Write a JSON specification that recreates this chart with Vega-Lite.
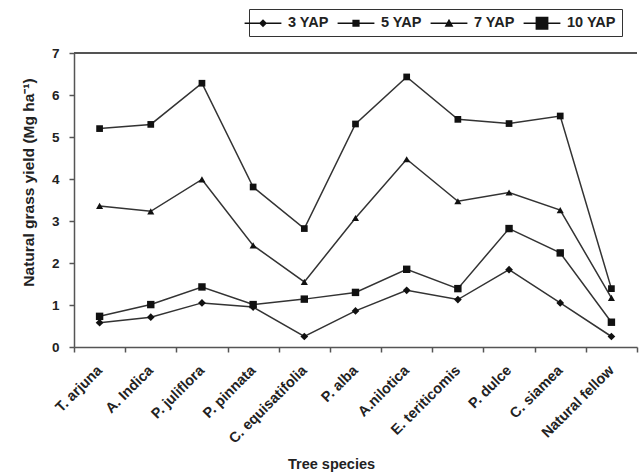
{
  "$schema": "https://vega.github.io/schema/vega-lite/v6.json",
  "autosize": "none",
  "width": 563,
  "height": 294,
  "padding": {"left": 74, "top": 53, "right": 3, "bottom": 126},
  "background": "white",
  "config": {
    "font": "Liberation Sans",
    "view": {"stroke": null},
    "axis": {"labelFont": "Liberation Sans", "labelFontWeight": "bold", "labelColor": "#222", "titleFont": "Liberation Sans", "titleFontWeight": "bold", "titleColor": "#222", "domainColor": "#555", "domainWidth": 1.5, "tickColor": "#555", "tickWidth": 1.5, "tickSize": 5, "grid": false}
  },
  "data": {"values": [
    {"species": "T. arjuna", "series": "3 YAP", "value": 0.58},
    {"species": "T. arjuna", "series": "5 YAP", "value": 0.73},
    {"species": "T. arjuna", "series": "7 YAP", "value": 3.36},
    {"species": "T. arjuna", "series": "10 YAP", "value": 5.20},
    {"species": "A. Indica", "series": "3 YAP", "value": 0.71},
    {"species": "A. Indica", "series": "5 YAP", "value": 1.01},
    {"species": "A. Indica", "series": "7 YAP", "value": 3.23},
    {"species": "A. Indica", "series": "10 YAP", "value": 5.30},
    {"species": "P. juliflora", "series": "3 YAP", "value": 1.05},
    {"species": "P. juliflora", "series": "5 YAP", "value": 1.43},
    {"species": "P. juliflora", "series": "7 YAP", "value": 3.99},
    {"species": "P. juliflora", "series": "10 YAP", "value": 6.28},
    {"species": "P. pinnata", "series": "3 YAP", "value": 0.95},
    {"species": "P. pinnata", "series": "5 YAP", "value": 1.01},
    {"species": "P. pinnata", "series": "7 YAP", "value": 2.42},
    {"species": "P. pinnata", "series": "10 YAP", "value": 3.81},
    {"species": "C. equisatifolia", "series": "3 YAP", "value": 0.25},
    {"species": "C. equisatifolia", "series": "5 YAP", "value": 1.14},
    {"species": "C. equisatifolia", "series": "7 YAP", "value": 1.55},
    {"species": "C. equisatifolia", "series": "10 YAP", "value": 2.82},
    {"species": "P. alba", "series": "3 YAP", "value": 0.86},
    {"species": "P. alba", "series": "5 YAP", "value": 1.30},
    {"species": "P. alba", "series": "7 YAP", "value": 3.07},
    {"species": "P. alba", "series": "10 YAP", "value": 5.31},
    {"species": "A.nilotica", "series": "3 YAP", "value": 1.35},
    {"species": "A.nilotica", "series": "5 YAP", "value": 1.85},
    {"species": "A.nilotica", "series": "7 YAP", "value": 4.47},
    {"species": "A.nilotica", "series": "10 YAP", "value": 6.43},
    {"species": "E. teriticomis", "series": "3 YAP", "value": 1.13},
    {"species": "E. teriticomis", "series": "5 YAP", "value": 1.39},
    {"species": "E. teriticomis", "series": "7 YAP", "value": 3.47},
    {"species": "E. teriticomis", "series": "10 YAP", "value": 5.42},
    {"species": "P. dulce", "series": "3 YAP", "value": 1.84},
    {"species": "P. dulce", "series": "5 YAP", "value": 2.82},
    {"species": "P. dulce", "series": "7 YAP", "value": 3.68},
    {"species": "P. dulce", "series": "10 YAP", "value": 5.32},
    {"species": "C. siamea", "series": "3 YAP", "value": 1.05},
    {"species": "C. siamea", "series": "5 YAP", "value": 2.24},
    {"species": "C. siamea", "series": "7 YAP", "value": 3.26},
    {"species": "C. siamea", "series": "10 YAP", "value": 5.50},
    {"species": "Natural fellow", "series": "3 YAP", "value": 0.25},
    {"species": "Natural fellow", "series": "5 YAP", "value": 0.59},
    {"species": "Natural fellow", "series": "7 YAP", "value": 1.17},
    {"species": "Natural fellow", "series": "10 YAP", "value": 1.39}
  ]},
  "encoding": {
    "x": {"field": "species", "type": "nominal", "sort": null,
      "scale": {"type": "band", "paddingInner": 0, "paddingOuter": 0},
      "axis": {"title": "Tree species", "labelAngle": -45, "labelFontSize": 14.5, "labelPadding": 11, "labelOffset": -5, "tickBand": "extent", "titleFontSize": 14.5, "titleX": 257, "titleY": 121, "titleBaseline": "alphabetic", "titleAnchor": null, "titleAlign": "center"}},
    "y": {"field": "value", "type": "quantitative",
      "scale": {"domain": [0, 7], "nice": false},
      "axis": {"title": "Natural grass yield (Mg ha⁻¹)", "values": [0,1,2,3,4,5,6,7], "labelFontSize": 13.5, "labelPadding": 10, "titleFontSize": 15.5, "titleX": -46, "titleY": 129, "titleAngle": -90, "titleAlign": "center", "titleBaseline": "middle", "titleAnchor": null}}
  },
  "layer": [
    {"mark": {"type": "rule", "color": "#555", "strokeWidth": 1.5}, "encoding": {"x": null, "y": {"datum": 7}}},
    {"mark": {"type": "line", "color": "#333", "strokeWidth": 1.5}, "encoding": {"detail": {"field": "series"}}},
    {"mark": {"type": "point", "filled": true, "color": "#111", "opacity": 1},
      "encoding": {
        "shape": {"field": "series", "scale": {"domain": ["3 YAP", "5 YAP", "7 YAP", "10 YAP"], "range": ["diamond", "square", "triangle-up", "square"]}, "legend": null},
        "size": {"field": "series", "scale": {"domain": ["3 YAP", "5 YAP", "7 YAP", "10 YAP"], "range": [60, 45, 70, 120]}, "legend": null}
      }},
    {"mark": {"type": "point", "filled": true, "color": "#111", "opacity": 0},
      "encoding": {
        "shape": {"field": "series", "scale": {"domain": ["3 YAP", "5 YAP", "7 YAP", "10 YAP"], "range": [
          "M-2.3,-0.09H2.3V0.09H-2.3ZM-0.5,0L0,-0.5L0.5,0L0,0.5Z",
          "M-2.3,-0.09H2.3V0.09H-2.3ZM-0.45,-0.45H0.45V0.45H-0.45Z",
          "M-2.3,-0.09H2.3V0.09H-2.3ZM-0.55,0.45L0,-0.55L0.55,0.45Z",
          "M-2.3,-0.09H2.3V0.09H-2.3ZM-0.8,-0.8H0.8V0.8H-0.8Z"]},
          "legend": {"title": null, "orient": "none", "legendX": 175, "legendY": -44, "direction": "horizontal",
            "symbolSize": 256, "labelFont": "Liberation Sans", "labelFontWeight": "bold", "labelFontSize": 14.5, "labelColor": "#222",
            "labelOffset": 17, "columnPadding": 8, "padding": 6, "strokeColor": "#333", "fillColor": "white",
            "symbolOpacity": 1, "symbolFillColor": "#111", "symbolStrokeWidth": 0,
            "encode": {"symbols": {"update": {"opacity": {"value": 1}, "fill": {"value": "#111"}}}}}
        }
      }}
  ],
  "resolve": {"scale": {"shape": "independent", "size": "independent"}, "legend": {"shape": "independent"}}
}
